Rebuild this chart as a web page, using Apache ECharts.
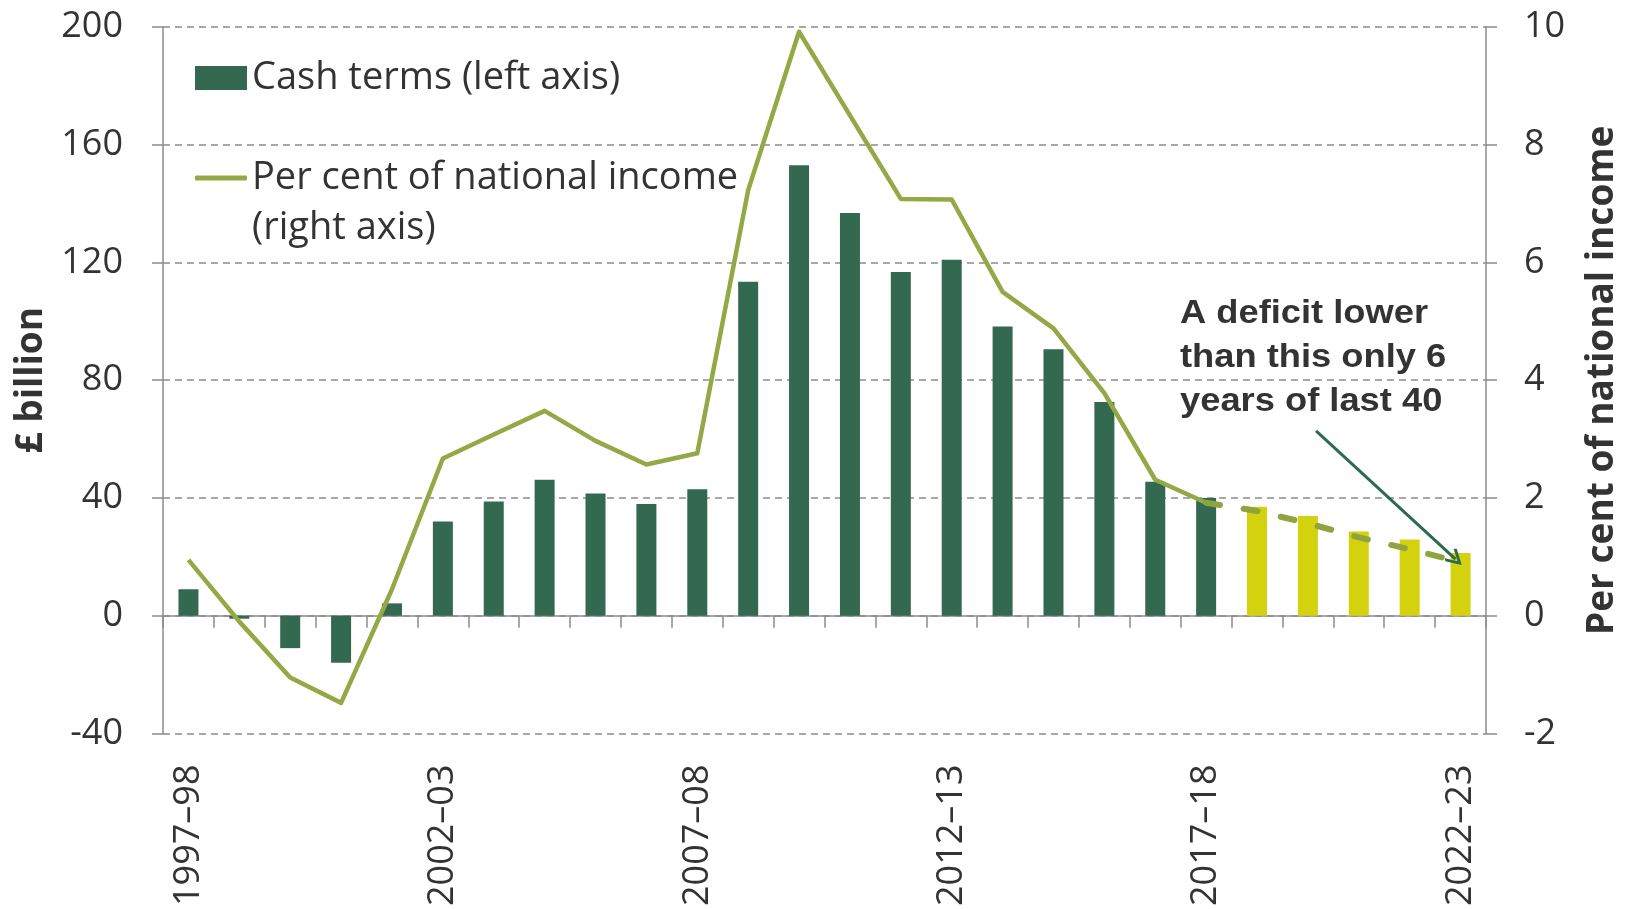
<!DOCTYPE html>
<html>
<head>
<meta charset="utf-8">
<script src="https://cdn.jsdelivr.net/npm/echarts@6/dist/echarts.min.js"></script>
<style>
  html, body { margin: 0; padding: 0; background: #ffffff; }
  #chart { width: 1632px; height: 909px; }
</style>
</head>
<body>
<div id="chart"></div>
<script>
// Public sector borrowing, 1997–98 to 2022–23
const years = [
  '1997–98', '1998–99', '1999–00', '2000–01', '2001–02', '2002–03', '2003–04',
  '2004–05', '2005–06', '2006–07', '2007–08', '2008–09', '2009–10', '2010–11',
  '2011–12', '2012–13', '2013–14', '2014–15', '2015–16', '2016–17', '2017–18',
  '2018–19', '2019–20', '2020–21', '2021–22', '2022–23'
];

// £ billion, cash terms (left axis)
const cashTerms = [
  9, -1, -11, -16, 4.2, 32, 38.8, 46.2, 41.5, 38, 43,
  113.5, 153, 136.8, 116.8, 120.9, 98.3, 90.5, 72.6, 45.5, 40,
  37, 33.9, 28.6, 25.9, 21.3
];

// Per cent of national income (right axis)
const pctIncome = [
  0.95, -0.1, -1.05, -1.48, 0.45, 2.67, 3.08, 3.48, 2.97, 2.57, 2.76,
  7.23, 9.92, 8.5, 7.08, 7.07, 5.5, 4.88, 3.78, 2.31, 1.92,
  1.78, 1.57, 1.33, 1.13, 0.91
];

// Years from here on are projections
const firstProjection = '2018–19';

// Axis ranges and ticks
const leftTicks = { min: -40, max: 200, interval: 40 };
const rightTicks = { min: -2, max: 10, interval: 2 };

// Legend wording
const barLegend = 'Cash terms (left axis)';
const lineLegend = 'Per cent of national income';
const lineLegendSecond = '(right axis)';

// Annotation and its pointer (category position, £ billion)
const noteText = 'A deficit lower\nthan this only 6\nyears of last 40';
const arrowPath = [[22.16, 62.8], [24.9, 19.2]];

const outturnColour = '#336950';
const projectionColour = '#d4d10f';
const lineColour = '#93a945';
const dashColour = '#8fa43e';
const arrowColour = '#2e6a50';
const axisGrey = '#8c8c8c';
const textGrey = '#333333';
const sansFont = '"Open Sans", "Noto Sans", sans-serif';

// open chevron arrow head (points up in its own box)
const chevron = 'path://M10,0L20,12L17.6,14L10,4.6L2.4,14L0,12Z';

const projIndex = years.indexOf(firstProjection);
const lastOutturn = projIndex - 1;

const barData = cashTerms.map((v, i) => ({
  value: v,
  itemStyle: { color: i >= projIndex ? projectionColour : outturnColour }
}));
const solidLine = pctIncome.map((v, i) => (i <= lastOutturn ? v : null));
const dashedLine = pctIncome.map((v, i) => (i >= lastOutturn ? v : null));

const chart = echarts.init(document.getElementById('chart'), null, { renderer: 'canvas' });

const tickLabel = { fontFamily: sansFont, fontSize: 36, color: textGrey };
const legendText = { fontFamily: sansFont, fontSize: 38, color: textGrey };
const axisName = { fontFamily: sansFont, fontSize: 37, fontWeight: 'bold', color: textGrey };

chart.setOption({
  backgroundColor: '#ffffff',
  animation: false,
  grid: { left: 163, right: 146, top: 27, bottom: 172, containLabel: false },
  legend: [
    {
      left: 195, top: 59, padding: 0, orient: 'vertical',
      itemWidth: 52, itemHeight: 24,
      data: [{ name: barLegend, icon: 'rect' }],
      textStyle: legendText,
      selectedMode: false
    },
    {
      left: 195, top: 159, padding: 0, orient: 'vertical',
      itemWidth: 52, itemHeight: 5,
      data: [{ name: lineLegend, icon: 'roundRect' }],
      textStyle: legendText,
      selectedMode: false
    }
  ],
  xAxis: [
    {
      // category labels along the bottom of the plot
      type: 'category', data: years, position: 'bottom', boundaryGap: true,
      axisLine: { show: false, onZero: false },
      axisTick: { show: false },
      axisLabel: { ...tickLabel, rotate: 90, interval: 4, margin: 31 }
    },
    {
      // zero line with category ticks
      type: 'category', data: years, position: 'bottom', boundaryGap: true,
      axisLine: { show: true, onZero: true, onZeroAxisIndex: 0,
                  lineStyle: { color: axisGrey, width: 1.5 } },
      axisTick: { show: true, interval: 0, length: 12, lineStyle: { color: axisGrey, width: 1.5 } },
      axisLabel: { show: false },
      splitLine: { show: false }
    },
    {
      // continuous scale for the annotation pointer
      type: 'value', min: -0.5, max: 25.5, show: false, position: 'bottom'
    }
  ],
  yAxis: [
    {
      type: 'value', position: 'left', ...leftTicks,
      name: '£ billion', nameLocation: 'middle', nameGap: 110,
      nameTextStyle: axisName,
      axisLine: { show: true, onZero: false, lineStyle: { color: axisGrey, width: 1.5 } },
      axisTick: { show: true, length: 11, lineStyle: { color: axisGrey, width: 1.5 } },
      axisLabel: { ...tickLabel, margin: 40 },
      splitLine: { show: true, lineStyle: { color: axisGrey, width: 1.5, type: [7, 5] } }
    },
    {
      type: 'value', position: 'right', ...rightTicks,
      name: 'Per cent of national income', nameLocation: 'middle', nameGap: 98,
      nameTextStyle: axisName,
      axisLine: { show: true, onZero: false, lineStyle: { color: axisGrey, width: 1.5 } },
      axisTick: { show: true, length: 11, lineStyle: { color: axisGrey, width: 1.5 } },
      axisLabel: { ...tickLabel, margin: 38 },
      splitLine: { show: false }
    }
  ],
  series: [
    {
      name: barLegend, type: 'bar',
      xAxisIndex: 0, yAxisIndex: 0, barWidth: 20,
      itemStyle: { color: outturnColour },
      data: barData, z: 2
    },
    {
      name: lineLegend, type: 'line',
      xAxisIndex: 0, yAxisIndex: 1, symbol: 'none',
      itemStyle: { color: lineColour },
      lineStyle: { color: lineColour, width: 4.5, join: 'round' },
      data: solidLine, z: 4
    },
    {
      name: 'Projection', type: 'line',
      xAxisIndex: 0, yAxisIndex: 1, symbol: 'none',
      itemStyle: { color: dashColour },
      lineStyle: { color: dashColour, width: 6, type: [14, 24], cap: 'round' },
      data: dashedLine, z: 4
    },
    {
      name: 'Pointer', type: 'lines', coordinateSystem: 'cartesian2d',
      xAxisIndex: 2, yAxisIndex: 0,
      symbol: ['none', chevron], symbolSize: [26, 17],
      itemStyle: { color: arrowColour },
      lineStyle: { color: arrowColour, width: 3, curveness: 0, opacity: 1 },
      data: [{ coords: arrowPath }], z: 5
    }
  ],
  graphic: [
    {
      // second line of the line-series legend entry
      type: 'text', x: 252, y: 228, z: 10,
      style: {
        text: lineLegendSecond, fill: textGrey, verticalAlign: 'middle',
        font: '38px "Open Sans", "Noto Sans", sans-serif'
      }
    },
    {
      type: 'text', x: 1180, y: 292, scaleX: 1.1, z: 10,
      style: {
        text: noteText, fill: textGrey, lineHeight: 44,
        font: 'bold 33px "Liberation Sans", Arial, sans-serif'
      }
    }
  ]
});
</script>
</body>
</html>
